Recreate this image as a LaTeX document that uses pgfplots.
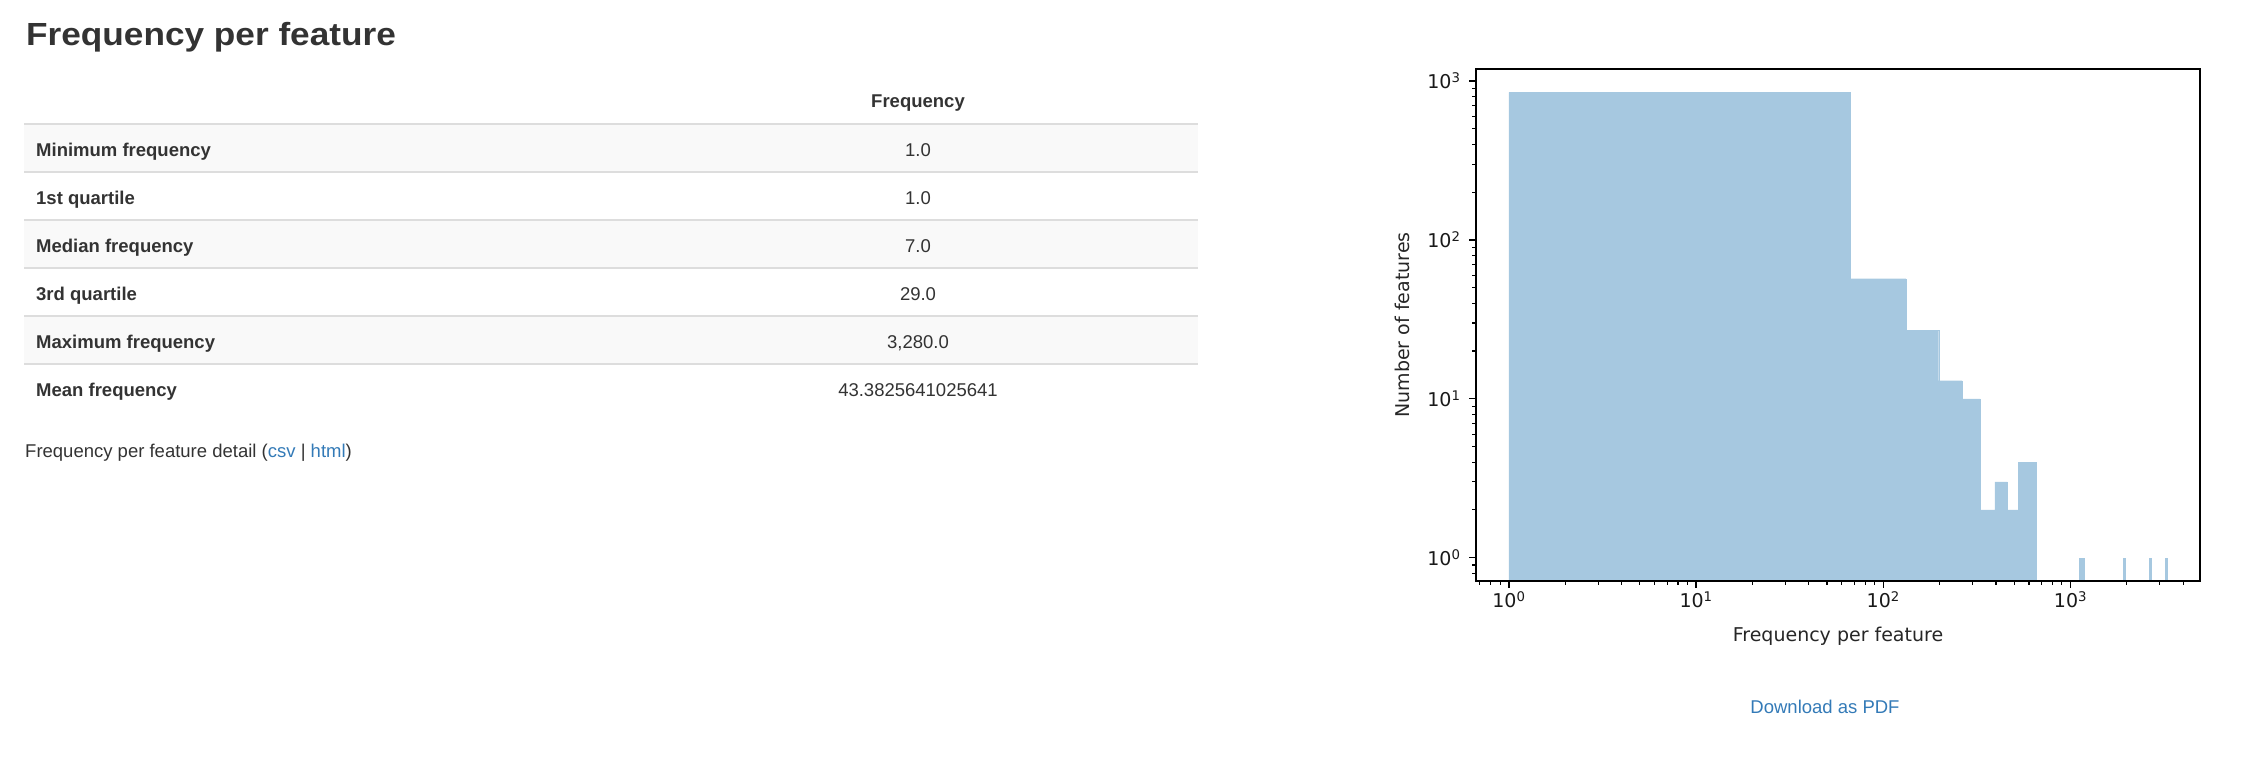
\documentclass[border=0pt]{standalone}
\usepackage{fontspec}
\usepackage{pgfplots}
\pgfplotsset{compat=1.18}
\setmainfont{Liberation Sans}
\newfontfamily\djv{DejaVu Sans}

\definecolor{txt}{HTML}{333333}
\definecolor{link}{HTML}{337AB7}
\definecolor{rule}{HTML}{DDDDDD}
\definecolor{rowbg}{HTML}{F9F9F9}
\definecolor{histc}{RGB}{166,200,224}

\newcommand\tbl{\fontsize{18.5}{22}\selectfont}
\newcommand\pl{\djv\fontsize{19}{22}\selectfont}
\newcommand\tp[1]{10\textsuperscript{#1}}

\begin{document}
\begin{tikzpicture}
\begin{scope}[x=1pt,y=-1pt]
  \path[use as bounding box] (0,0) rectangle (2246,776);
  % title
  \node[anchor=base west,inner sep=0,text=txt] at (26,46)
    {\scalebox{1.1}[1]{\fontsize{32}{36}\selectfont\bfseries Frequency per feature}};
  % table rows
  \fill[rowbg] (24,124) rectangle (1198,172);
  \fill[rowbg] (24,220) rectangle (1198,268);
  \fill[rowbg] (24,316) rectangle (1198,364);
  \foreach \y in {124,172,220,268,316,364}
    \draw[rule,line width=2pt] (24,\y) -- (1198,\y);
  \node[anchor=base,inner sep=0,text=txt] at (918,107) {\tbl\bfseries Frequency};
  \foreach \y/\lab/\val in {156/Minimum frequency/1.0, 204/1st quartile/1.0,
      252/Median frequency/7.0, 300/3rd quartile/29.0,
      348/Maximum frequency/{3,280.0}, 396/Mean frequency/43.3825641025641} {
    \node[anchor=base west,inner sep=0,text=txt] at (36,\y) {\tbl\bfseries \lab};
    \node[anchor=base,inner sep=0,text=txt] at (918,\y) {\tbl \val};
  }
  \node[anchor=base west,inner sep=0,text=txt] at (25,457)
    {\tbl Frequency per feature detail (\textcolor{link}{csv} | \textcolor{link}{html})};
  \node[anchor=base,inner sep=0,text=link] at (1825,713) {\tbl Download as PDF};
\end{scope}

\begin{axis}[
  at={(1476pt,-581pt)}, anchor=south west,
  width=724pt, height=512pt, scale only axis,
  xmode=log, ymode=log,
  xmin=0.667, xmax=4920, ymin=0.714, ymax=1190,
  log origin y=infty,
  axis on top,
  axis line style={line width=1.6pt},
  tick pos=left, xtick align=outside, ytick align=outside,
  major tick length=7pt, minor tick length=4pt,
  major tick style={black,line width=1.3pt},
  minor tick style={black,line width=1.1pt},
  xtick={1,10,100,1000}, xticklabels={\tp{0},\tp{1},\tp{2},\tp{3}},
  ytick={1,10,100,1000}, yticklabels={\tp{0},\tp{1},\tp{2},\tp{3}},
  minor xtick={0.7,0.8,0.9,2,3,4,5,6,7,8,9,20,30,40,50,60,70,80,90,200,300,400,500,600,700,800,900,2000,3000,4000},
  minor ytick={0.8,0.9,2,3,4,5,6,7,8,9,20,30,40,50,60,70,80,90,200,300,400,500,600,700,800,900},
  tick label style={font=\pl, text=black!90},
  yticklabel style={xshift=-5pt},
  xlabel={Frequency per feature}, ylabel={Number of features},
  every axis x label/.style={at={(axis description cs:0.5,-0.119)}, anchor=base, font=\pl, text=black!85},
  every axis y label/.style={at={(axis description cs:-0.0912,0.5)}, rotate=90, anchor=base, font=\pl, text=black!85},
]
\addplot[ybar interval, fill=histc, draw=histc, line width=0.3pt] coordinates {
  (1,849) (66.58,57) (132.16,27) (197.74,13) (263.32,10) (328.9,2)
  (394.48,3) (460.06,2) (525.64,4) (591.22,4) (656.8,4)};
\addplot[ybar interval, fill=histc, draw=histc, line width=0.3pt] coordinates {(1115.86,1) (1181.44,1)};
\addplot[ybar interval, fill=histc, draw=histc, line width=0.3pt] coordinates {(1902.82,1) (1968.4,1)};
\addplot[ybar interval, fill=histc, draw=histc, line width=0.3pt] coordinates {(2624.2,1) (2689.78,1)};
\addplot[ybar interval, fill=histc, draw=histc, line width=0.3pt] coordinates {(3214.42,1) (3280,1)};
\end{axis}
\end{tikzpicture}
\end{document}
